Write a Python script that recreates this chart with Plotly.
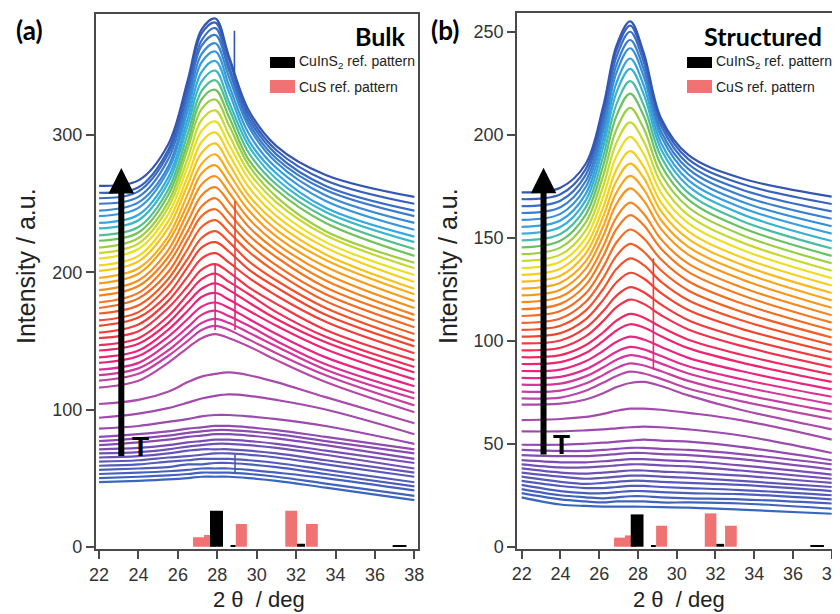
import plotly.graph_objects as go

# ---------------- data ----------------
X_BULK = [22, 24, 25.5, 26.5, 27.2, 27.9, 28.6, 29.6, 31, 33.5, 38]
X_STRUCT = [22, 24, 25.3, 26.2, 26.9, 27.6, 28.3, 29.2, 30.6, 33.3, 38]

# Bulk, upper (peaked) scans, top (highest T) to bottom
bulk_upper = [
    [263, 267, 293, 340, 377, 385, 357, 318, 292, 271, 255],
    [258, 262, 289, 336, 374, 382, 355, 315, 289, 267, 250],
    [254, 259, 286, 332, 369, 378, 350, 312, 286, 263, 245],
    [250, 255, 282, 328, 365, 373, 347, 309, 283, 260, 241],
    [245, 251, 277, 323, 359, 367, 342, 306, 280, 256, 236],
    [241, 247, 274, 318, 353, 361, 336, 301, 276, 252, 231],
    [236, 242, 269, 312, 346, 354, 331, 296, 272, 247, 226],
    [232, 238, 265, 307, 339, 347, 324, 292, 268, 244, 222],
    [227, 233, 260, 301, 332, 340, 319, 287, 264, 240, 217],
    [223, 229, 256, 295, 326, 333, 313, 282, 260, 236, 212],
    [218, 225, 251, 290, 319, 326, 307, 278, 255, 230, 207],
    [214, 221, 247, 283, 311, 318, 300, 273, 251, 227, 203],
    [210, 217, 242, 277, 303, 310, 293, 268, 246, 222, 198],
    [205, 212, 237, 270, 295, 302, 286, 262, 241, 218, 193],
    [201, 208, 232, 264, 287, 294, 279, 256, 236, 213, 188],
    [196, 203, 226, 257, 279, 286, 272, 251, 231, 209, 184],
    [192, 199, 222, 250, 272, 278, 265, 245, 226, 204, 179],
    [187, 194, 216, 244, 264, 270, 258, 239, 221, 199, 174],
    [183, 190, 211, 237, 256, 262, 251, 233, 216, 194, 169],
    [178, 185, 206, 230, 248, 254, 243, 227, 211, 189, 165],
    [174, 181, 200, 224, 241, 246, 236, 221, 205, 184, 160],
    [170, 176, 195, 217, 233, 238, 229, 215, 200, 179, 155],
    [165, 171, 190, 210, 225, 230, 222, 208, 194, 174, 150],
    [161, 167, 184, 204, 218, 222, 215, 202, 189, 169, 146],
    [156, 162, 179, 197, 210, 214, 207, 196, 183, 164, 141],
    [152, 157, 174, 190, 202, 206, 200, 189, 177, 158, 136],
    [147, 152, 168, 184, 195, 199, 193, 184, 171, 153, 131],
    [143, 148, 163, 178, 188, 192, 187, 178, 166, 149, 127],
    [138, 143, 158, 172, 182, 185, 180, 172, 161, 144, 122],
    [134, 139, 153, 166, 175, 178, 174, 166, 155, 138, 117],
    [129, 134, 148, 160, 169, 172, 168, 161, 150, 133, 112],
    [125, 130, 143, 155, 163, 166, 163, 156, 146, 129, 108],
    [121, 126, 139, 150, 158, 161, 158, 151, 141, 125, 103],
    [116, 121, 134, 145, 152, 155, 152, 146, 136, 120, 98],
]

# Bulk, lower (amorphous) scans, top to bottom
bulk_lower = [
    [104, 107, 113, 120, 124, 126, 127, 125, 120, 109, 90],
    [94, 97, 101, 105, 108, 110, 111, 110, 107, 100, 82],
    [86, 88, 91, 93, 95, 96, 96, 95, 93, 88, 75],
    [80, 82, 84, 86, 87, 88, 88, 87, 85, 80, 71],
    [77, 79, 81, 83, 84, 85, 85, 84, 82, 77, 68],
    [74, 76, 78, 80, 81, 82, 82, 81, 79, 74, 64],
    [71, 72, 74, 76, 77, 78, 78, 77, 75, 70, 61],
    [68, 69, 71, 73, 74, 75, 75, 74, 72, 67, 57],
    [65, 66, 68, 70, 71, 71, 71, 70, 68, 63, 54],
    [62, 63, 65, 66, 67, 68, 68, 67, 65, 60, 51],
    [59, 60, 62, 63, 64, 64, 64, 63, 61, 56, 47],
    [56, 57, 58, 60, 60, 61, 61, 60, 58, 53, 44],
    [53, 54, 55, 56, 57, 57, 57, 56, 54, 50, 41],
    [50, 51, 52, 53, 54, 54, 54, 53, 51, 46, 37],
    [47, 48, 49, 50, 51, 51, 51, 50, 48, 43, 34],
]

# Structured, upper scans, top to bottom
struct_upper = [
    [172, 174.3, 185.8, 213.4, 243.4, 255, 239.8, 207.9, 190.2, 179, 170],
    [168.7, 171.1, 183.2, 211, 241.2, 253, 238, 206.3, 188.2, 176.3, 166.4],
    [165.3, 168, 180.4, 208.1, 238, 250, 235.3, 204.2, 185.8, 173.5, 162.8],
    [162, 164.8, 177.4, 204.8, 234.1, 246, 231.9, 201.6, 183.4, 170.6, 159.2],
    [158.7, 161.6, 174.5, 201.5, 230.3, 242, 228.4, 199.1, 180.8, 167.7, 155.6],
    [155.3, 158.4, 171.2, 197.5, 225.4, 237, 224, 195.9, 178, 164.8, 152],
    [152, 155.2, 168, 193.7, 220.7, 232, 219.7, 192.8, 175.1, 161.7, 148.4],
    [148.7, 151.8, 164.6, 189.2, 215, 226, 214.4, 189.2, 171.8, 158.4, 144.8],
    [145.3, 148.5, 161.1, 184.7, 209.4, 220, 209.2, 185.2, 168.5, 155.1, 141.2],
    [142, 145.2, 157.3, 179.8, 202.8, 213, 203, 180.8, 164.8, 151.6, 137.6],
    [138.7, 141.8, 153.5, 174.7, 196.3, 206, 196.8, 176.4, 161, 148, 134],
    [135.3, 138.4, 149.7, 169.6, 189.8, 199, 190.6, 171.7, 157.1, 144.4, 130.4],
    [132, 135, 145.9, 164.5, 183.3, 192, 184.4, 167, 153.1, 140.7, 126.8],
    [128.7, 131.6, 142.3, 160, 177.7, 186, 179, 162.8, 149.4, 137.1, 123.2],
    [125.3, 128.2, 138.5, 155.3, 172, 180, 173.5, 158.5, 145.6, 133.6, 119.6],
    [122, 124.8, 134.9, 150.7, 166.5, 174, 168, 154.2, 141.8, 130, 116],
    [118.7, 121.3, 130.8, 145.6, 160, 167, 161.7, 149.2, 137.4, 126.1, 112.4],
    [115.3, 117.9, 127, 140.9, 154.3, 161, 156.1, 144.7, 133.4, 122.3, 108.8],
    [112, 114.4, 122.9, 135.6, 147.8, 154, 149.7, 139.4, 128.9, 118.3, 105.2],
    [108.7, 110.8, 118.8, 130.3, 141.3, 147, 143.2, 134.1, 124.4, 114.2, 101.6],
    [105.3, 107.3, 114.6, 125, 134.9, 140, 136.7, 128.6, 119.7, 110.1, 98],
    [102, 103.7, 110.4, 119.7, 128.4, 133, 130.2, 123.1, 114.9, 105.9, 94.4],
    [98.7, 100.1, 106.2, 114.3, 121.9, 126, 123.5, 117.5, 110, 101.6, 90.8],
    [95.3, 96.6, 102.1, 109.5, 116.3, 120, 117.9, 112.4, 105.5, 97.6, 87.2],
    [92, 93, 97.8, 104, 109.8, 113, 111.2, 106.6, 100.5, 93.3, 83.6],
    [88.7, 89.6, 94, 99.8, 105, 108, 106.4, 102.2, 96.4, 89.5, 80],
    [85.3, 86, 90, 95, 99.5, 102, 100.6, 97, 91.7, 85.3, 76.4],
    [82, 82.5, 86.1, 90.7, 94.7, 97, 95.8, 92.6, 87.6, 81.4, 72.8],
    [78.7, 79.2, 82.7, 87, 90.8, 93, 91.9, 88.9, 84.1, 77.9, 69.2],
    [75.3, 75.8, 79.2, 83.3, 86.8, 89, 88, 85.2, 80.5, 74.2, 65.6],
    [72, 72.4, 75.7, 79.6, 82.9, 85, 84.1, 81.5, 76.8, 70.7, 62],
]

# Structured, lower scans, top to bottom
struct_lower = [
    [69, 69.5, 71.5, 74.5, 77.5, 79.5, 80, 78, 73.5, 66.5, 57],
    [61.5, 62, 63, 64.5, 66, 67, 67, 66.5, 65, 61.5, 52],
    [56, 56, 56.5, 57, 57.5, 58, 58.3, 58, 57, 54, 45.5],
    [49.5, 49.5, 50, 50.5, 51, 51.5, 52, 51.5, 51, 48.5, 42],
    [47, 46.5, 46.5, 47, 47.5, 48, 48, 47.5, 47, 45, 40],
    [44.5, 44, 44, 44.5, 45, 45.5, 45.5, 45, 44.5, 42.5, 37.5],
    [42, 41, 41, 41.5, 42, 42.5, 42.5, 42, 41.5, 39.5, 35],
    [40, 38.5, 38.5, 39, 39.5, 40, 40, 39.5, 39, 37, 33],
    [38, 36, 35.5, 36, 36.5, 37, 37, 36.5, 36, 34.5, 31],
    [36, 34, 33, 33.5, 34, 34.5, 34.5, 34, 33.5, 32, 29],
    [34, 31.5, 30.5, 31, 31.5, 32, 32, 31.5, 31, 30, 27],
    [32, 29.5, 28.5, 28.5, 29, 29.5, 29.5, 29, 28.5, 27.5, 25],
    [30, 27, 26, 26, 26.5, 27, 27, 26.5, 26, 25.5, 23],
    [28, 25, 24, 23.5, 24, 24.5, 24.5, 24, 23.5, 23, 21],
    [26, 23, 22, 21.5, 22, 22, 22, 21.5, 21.5, 21, 18.5],
    [24, 20.5, 19.8, 19.5, 19.5, 19.5, 19.4, 19.2, 19, 18, 16],
]

# narrow artefact spikes (x, low, high)
spike_bulk_x = [28.87, 27.89, 28.9, 28.9, 28.9]
spike_bulk_lo = [345, 158, 200, 158, 54]
spike_bulk_hi = [376, 206, 252, 200, 67]
spike_struct_x = [28.8, 28.8]
spike_struct_lo = [110, 86]
spike_struct_hi = [140, 110]

# reference patterns
cus_pos = [27.07, 27.63, 29.22, 31.75, 32.8]
cus_width = [0.6, 0.6, 0.56, 0.6, 0.6]
cus_bulk = [6.9, 8.5, 16.5, 26.2, 16.5]
cus_struct = [4.4, 5.5, 10.2, 16.2, 10.2]
cuins2_pos = [27.96, 28.8, 32.25, 37.25]
cuins2_width = [0.66, 0.25, 0.4, 0.7]
cuins2_bulk = [26.2, 1.0, 2.2, 1.2]
cuins2_struct = [15.7, 0.7, 1.4, 0.8]

# ---------------- styling ----------------
# the page adds an 8 px body margin, so the figure is laid out in page pixels minus 8
OFF = 8
W, H = 840 - OFF, 614 - OFF
UPPER_STOPS = [
    (0.00, "#b848a8"), (0.06, "#d0389e"), (0.12, "#e82488"), (0.18, "#f0246a"),
    (0.24, "#f03448"), (0.30, "#f24430"), (0.38, "#f36424"), (0.46, "#f5841e"),
    (0.53, "#f8a41c"), (0.58, "#f8c41c"), (0.63, "#f0e020"), (0.68, "#b8d636"),
    (0.73, "#6cc25a"), (0.78, "#3cbcc0"), (0.82, "#34a8e2"), (0.88, "#3a88d2"),
    (0.94, "#3a6cc4"), (1.00, "#3556b0"),
]
LOWER_STOPS = [(0.0, "#3a66be"), (0.35, "#5a58b8"), (0.6, "#7e4cb2"), (1.0, "#aa4aaa")]


def hex2rgb(h):
    h = h.lstrip("#")
    return tuple(int(h[i:i + 2], 16) for i in (0, 2, 4))


def cmap(stops, f):
    for (f0, c0), (f1, c1) in zip(stops[:-1], stops[1:]):
        if f <= f1:
            t = 0 if f1 == f0 else (f - f0) / (f1 - f0)
            a, b = hex2rgb(c0), hex2rgb(c1)
            return "rgb(%d,%d,%d)" % tuple(round(a[k] + (b[k] - a[k]) * t) for k in range(3))
    return stops[-1][1]


def px(x):
    return (x - OFF) / W


def py(y):
    return 1 - (y - OFF) / H


fig = go.Figure()


def add_panel(xs, upper, lower, xa, ya, sx, slo, shi, scol):
    n_low = len(lower)
    for j in range(n_low - 1, -1, -1):
        f = 1 - j / (n_low - 1)
        fig.add_trace(go.Scatter(x=xs, y=lower[j], mode="lines", xaxis=xa, yaxis=ya,
                                 line=dict(color=cmap(LOWER_STOPS, f), width=2.2, shape="spline"),
                                 hoverinfo="skip", showlegend=False))
    n_up = len(upper)
    for i in range(n_up - 1, -1, -1):
        f = 1 - i / (n_up - 1)
        fig.add_trace(go.Scatter(x=xs, y=upper[i], mode="lines", xaxis=xa, yaxis=ya,
                                 line=dict(color=cmap(UPPER_STOPS, f), width=2.2, shape="spline"),
                                 hoverinfo="skip", showlegend=False))
    for k in range(len(sx)):
        fig.add_trace(go.Scatter(x=[sx[k], sx[k]], y=[slo[k], shi[k]], mode="lines", xaxis=xa, yaxis=ya,
                                 line=dict(color=scol[k], width=1.6),
                                 hoverinfo="skip", showlegend=False))


add_panel(X_BULK, bulk_upper, bulk_lower, "x", "y",
          spike_bulk_x, spike_bulk_lo, spike_bulk_hi,
          ["#3556b0", "#e8207e", "#f03c3c", "#e8207e", "#4a5ab4"])
add_panel(X_STRUCT, struct_upper, struct_lower, "x2", "y2",
          spike_struct_x, spike_struct_lo, spike_struct_hi, ["#f03a30", "#e8287a"])

for xa, ya, cus_h, cis_h in [("x", "y", cus_bulk, cuins2_bulk), ("x2", "y2", cus_struct, cuins2_struct)]:
    fig.add_trace(go.Bar(x=cus_pos, y=cus_h, width=cus_width, xaxis=xa, yaxis=ya,
                         marker=dict(color="#f07272", line=dict(width=0)),
                         hoverinfo="skip", showlegend=False))
    fig.add_trace(go.Bar(x=cuins2_pos, y=cis_h, width=cuins2_width, xaxis=xa, yaxis=ya,
                         marker=dict(color="#000000", line=dict(width=0)),
                         hoverinfo="skip", showlegend=False))

TICKFONT = dict(family="Liberation Sans, Arial, sans-serif", size=18, color="#333333")
axis_common = dict(showgrid=False, zeroline=False, showline=True, mirror=True, automargin=False,
                   linecolor="#4a4a4a", linewidth=1.5, ticks="outside", ticklen=8,
                   tickwidth=1.5, tickcolor="#4a4a4a", tickfont=TICKFONT, ticklabeloverflow="allow")

fig.update_layout(
    template="none",
    width=W, height=H, margin=dict(l=0, r=0, t=0, b=0, pad=0, autoexpand=False),
    paper_bgcolor="white", plot_bgcolor="white", barmode="overlay", hovermode=False,
    showlegend=False,
    xaxis=dict(domain=[px(95.7), px(417.7)], range=[21.83, 38.17], anchor="y",
               tickvals=list(range(22, 39, 2)), **axis_common),
    yaxis=dict(domain=[py(549.3), py(14)], range=[-1.9, 388.3], anchor="x",
               tickvals=[0, 100, 200, 300], **axis_common),
    xaxis2=dict(domain=[px(517), px(836.5)], range=[21.76, 38.25], anchor="y2",
                tickvals=list(range(22, 39, 2)), **axis_common),
    yaxis2=dict(domain=[py(549), py(13)], range=[-1.1, 259.1], anchor="x2",
                tickvals=[0, 50, 100, 150, 200, 250], **axis_common),
)

BOLD = "Lato, Liberation Sans, sans-serif"
ARIAL = "Liberation Sans, Arial, sans-serif"
ann = []
# panel letters and titles
ann.append(dict(x=px(29), y=py(30), xref="paper", yref="paper", text="<b>(a)</b>", showarrow=False,
                font=dict(family=BOLD, size=26, color="black"), xanchor="center", yanchor="middle"))
ann.append(dict(x=px(445), y=py(30), xref="paper", yref="paper", text="<b>(b)</b>", showarrow=False,
                font=dict(family=BOLD, size=26, color="black"), xanchor="center", yanchor="middle"))
ann.append(dict(x=px(408), y=py(36), xref="paper", yref="paper", text="<b>Bulk</b>", showarrow=False,
                font=dict(family=BOLD, size=25, color="black"), xanchor="right", yanchor="middle"))
ann.append(dict(x=px(824), y=py(36), xref="paper", yref="paper", text="<b>Structured</b>", showarrow=False,
                font=dict(family=BOLD, size=25, color="black"), xanchor="right", yanchor="middle"))
# axis titles
for cx in (26, 448):
    ann.append(dict(x=px(cx), y=py(266), xref="paper", yref="paper", text="Intensity / a.u.",
                    textangle=-90, showarrow=False, font=dict(family=ARIAL, size=25, color="#222222"),
                    xanchor="center", yanchor="middle"))
for cx in (259, 679):
    ann.append(dict(x=px(cx), y=py(599), xref="paper", yref="paper", text="2 θ\u00a0 / deg",
                    showarrow=False, font=dict(family=ARIAL, size=22, color="#222222"),
                    xanchor="center", yanchor="middle"))
# legends
shapes = []
for lx in (270, 687):
    shapes.append(dict(type="rect", xref="paper", yref="paper", x0=px(lx), x1=px(lx + 25),
                       y0=py(68), y1=py(57), fillcolor="black", line=dict(width=0)))
    shapes.append(dict(type="rect", xref="paper", yref="paper", x0=px(lx), x1=px(lx + 25),
                       y0=py(93), y1=py(80), fillcolor="#f07272", line=dict(width=0)))
    ann.append(dict(x=px(lx + 27), y=py(62), xref="paper", yref="paper",
                    text="CuInS<sub>2</sub> ref. pattern", showarrow=False,
                    font=dict(family=ARIAL, size=14, color="#222222"), xanchor="left", yanchor="middle"))
    ann.append(dict(x=px(lx + 27), y=py(87), xref="paper", yref="paper",
                    text="CuS ref. pattern", showarrow=False,
                    font=dict(family=ARIAL, size=14, color="#222222"), xanchor="left", yanchor="middle"))
# temperature arrows
for xr, yr, tip, tail, ty in [("x", "y", 276, 65, 73), ("x2", "y2", 184, 44, 49.5)]:
    ann.append(dict(x=23.13, y=tip, ax=23.13, ay=tail, xref=xr, yref=yr, axref=xr, ayref=yr,
                    text="", showarrow=True, arrowhead=2, arrowsize=0.85, arrowwidth=6,
                    arrowcolor="black", standoff=0, startstandoff=0))
    ann.append(dict(x=24.08, y=ty, xref=xr, yref=yr, text="<b>T</b>", showarrow=False,
                    font=dict(family=ARIAL, size=28, color="black"), xanchor="center", yanchor="middle"))

fig.update_layout(annotations=ann, shapes=shapes)
fig.write_html("out.html")
